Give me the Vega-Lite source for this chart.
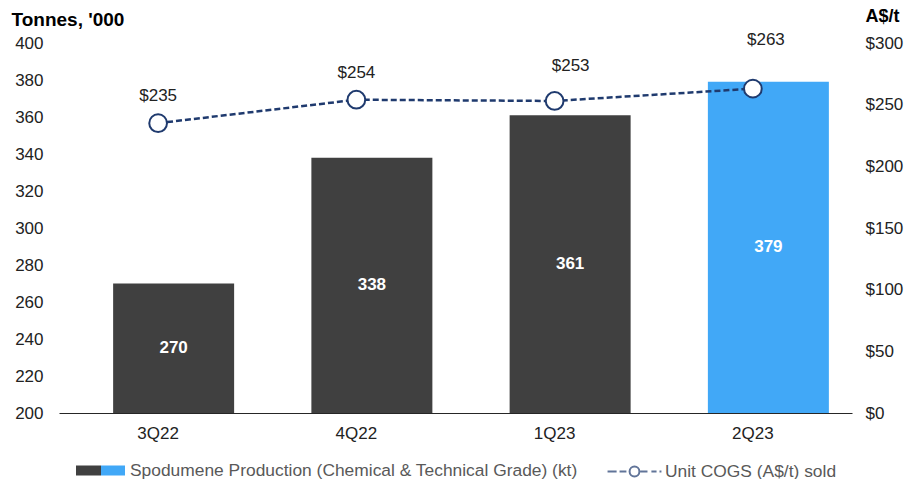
{
  "$schema": "https://vega.github.io/schema/vega-lite/v6.json",
  "width": 793,
  "height": 370,
  "autosize": {"type": "none"},
  "padding": {"left": 59, "top": 43, "right": 61, "bottom": 66},
  "background": "white",
  "config": {
    "view": {"stroke": null},
    "font": "Liberation Sans",
    "axis": {"labelFont": "Liberation Sans", "titleFont": "Liberation Sans", "labelColor": "#222222", "titleColor": "#000000", "grid": false, "ticks": false},
    "legend": {"labelFont": "Liberation Sans", "labelFontSize": 17.4, "labelColor": "#595959", "labelLimit": 700, "labelOffset": 5, "title": null, "orient": "none", "direction": "horizontal"}
  },
  "data": {
    "values": [
      {"q": "3Q22", "prod": 270, "cogs": 235, "bar_series": "Spodumene Production (Chemical & Technical Grade) (kt)", "line_series": "Unit COGS (A$/t) sold"},
      {"q": "4Q22", "prod": 338, "cogs": 254, "bar_series": "Spodumene Production (Chemical & Technical Grade) (kt)", "line_series": "Unit COGS (A$/t) sold"},
      {"q": "1Q23", "prod": 361, "cogs": 253, "bar_series": "Spodumene Production (Chemical & Technical Grade) (kt)", "line_series": "Unit COGS (A$/t) sold"},
      {"q": "2Q23", "prod": 379, "cogs": 263, "bar_series": "Spodumene Production (Chemical & Technical Grade) (kt)", "line_series": "Unit COGS (A$/t) sold"}
    ]
  },
  "encoding": {
    "x": {
      "field": "q", "type": "nominal", "sort": null,
      "scale": {"paddingInner": 0, "paddingOuter": 0},
      "axis": {"title": null, "labelAngle": 0, "labelFontSize": 17, "labelPadding": 12, "domainColor": "#262626", "domainWidth": 1.2}
    }
  },
  "layer": [
    {
      "mark": {"type": "bar", "size": 121, "xOffset": 15.5},
      "encoding": {
        "y": {
          "field": "prod", "type": "quantitative",
          "scale": {"domain": [200, 400], "nice": false, "zero": false},
          "axis": {"orient": "left", "values": [200, 220, 240, 260, 280, 300, 320, 340, 360, 380, 400], "domain": false, "labelFontSize": 17, "labelPadding": 16,
            "title": "Tonnes, '000", "titleAngle": 0, "titleAlign": "left", "titleBaseline": "alphabetic", "titleX": -48, "titleY": -18, "titleFontSize": 19, "titleFontWeight": "bold"}
        },
        "y2": {"datum": 200},
        "color": {"condition": {"test": "datum.q === '2Q23'", "value": "#41A8F7"}, "value": "#404040"}
      }
    },
    {
      "mark": {"type": "text", "xOffset": 15.5, "color": "#ffffff", "fontWeight": "bold", "fontSize": 17, "baseline": "middle"},
      "encoding": {
        "y": {"field": "prod", "type": "quantitative", "scale": {"domain": [200, 600], "nice": false, "zero": false}, "axis": null},
        "text": {"field": "prod", "type": "quantitative"}
      }
    },
    {
      "encoding": {
        "y": {
          "field": "cogs", "type": "quantitative",
          "scale": {"domain": [0, 300], "nice": false},
          "axis": {"orient": "right", "values": [0, 50, 100, 150, 200, 250, 300], "domain": false, "labelFontSize": 17, "labelPadding": 13, "labelExpr": "'$' + datum.label",
            "title": "A$/t", "titleAngle": 0, "titleAlign": "left", "titleBaseline": "alphabetic", "titleX": 13, "titleY": -22, "titleFontSize": 18, "titleFontWeight": "bold"}
        }
      },
      "layer": [
        {"mark": {"type": "line", "color": "#1F3A6E", "strokeWidth": 2.5, "strokeDash": [6, 3]}},
        {"mark": {"type": "point", "filled": true, "fill": "#ffffff", "stroke": "#1F3A6E", "strokeWidth": 2, "size": 314, "opacity": 1}},
        {
          "transform": [{"filter": "datum.q === '3Q22' || datum.q === '4Q22'"}],
          "mark": {"type": "text", "dy": -27, "fontSize": 17, "color": "#222222", "baseline": "middle"},
          "encoding": {"text": {"field": "cogs", "type": "quantitative", "format": "$.0f"}}
        },
        {
          "transform": [{"filter": "datum.q === '1Q23'"}],
          "mark": {"type": "text", "dy": -35, "dx": 16, "fontSize": 17, "color": "#222222", "baseline": "middle"},
          "encoding": {"text": {"field": "cogs", "type": "quantitative", "format": "$.0f"}}
        },
        {
          "transform": [{"filter": "datum.q === '2Q23'"}],
          "mark": {"type": "text", "dy": -49, "dx": 13, "fontSize": 17, "color": "#222222", "baseline": "middle"},
          "encoding": {"text": {"field": "cogs", "type": "quantitative", "format": "$.0f"}}
        }
      ]
    },
    {
      "transform": [{"filter": "false"}],
      "mark": {"type": "point", "filled": true, "shape": "M-1,-0.2H1V0.2H-1Z", "strokeWidth": 0,
        "color": {"gradient": "linear", "x1": 0, "y1": 0, "x2": 1, "y2": 0, "stops": [{"offset": 0, "color": "#404040"}, {"offset": 0.5, "color": "#404040"}, {"offset": 0.5, "color": "#41A8F7"}, {"offset": 1, "color": "#41A8F7"}]}},
      "encoding": {
        "opacity": {
          "field": "bar_series", "type": "nominal",
          "scale": {"domain": ["Spodumene Production (Chemical & Technical Grade) (kt)"], "range": [1]},
          "legend": {"legendX": 17, "legendY": 403, "symbolSize": 2401, "symbolStrokeWidth": 0}
        }
      }
    },
    {
      "transform": [{"filter": "false"}],
      "mark": {"type": "point", "filled": false, "shape": "M-1.1,0H-0.73M-0.61,0H-0.33M0.24,0H0.53M0.69,0H0.9M1.02,0H1.1M-0.2,0A0.2,0.2 0 1,1 0.2,0A0.2,0.2 0 1,1 -0.2,0Z", "fill": "#ffffff", "strokeWidth": 2},
      "encoding": {
        "color": {
          "field": "line_series", "type": "nominal",
          "scale": {"domain": ["Unit COGS (A$/t) sold"], "range": ["#1F3A6E"]},
          "legend": {"legendX": 550, "legendY": 403, "symbolSize": 2401, "symbolStrokeWidth": 2}
        }
      }
    }
  ],
  "resolve": {"scale": {"y": "independent", "opacity": "independent"}, "legend": {"opacity": "independent"}}
}
